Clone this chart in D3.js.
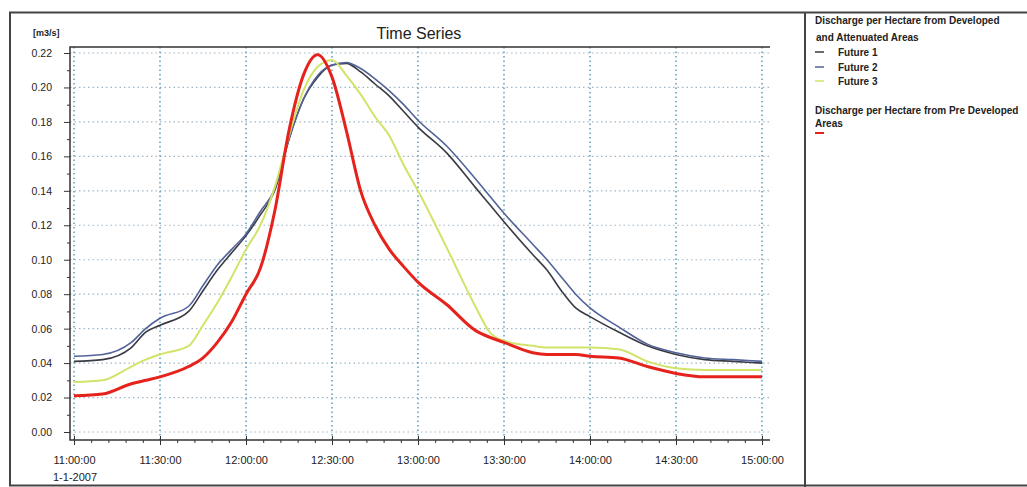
<!DOCTYPE html>
<html lang="en">
<head>
<meta charset="UTF-8">
<script src="https://cdn.jsdelivr.net/npm/d3@7"></script>
<title>Time Series</title>
<style>
    body {
        margin: 0;
        background: #fff;
        font-family: "Liberation Sans", Arial, sans-serif;
    }
    svg { display: block; }
    .grid-x line { stroke: #3d8fb5; stroke-width: 1.3; stroke-dasharray: 1.5 3; }
    .grid-y line { stroke: #9fb6c6; stroke-width: 1.2; stroke-dasharray: 1.5 3; }
    .axis text { font-family: "Liberation Sans", Arial, sans-serif; fill: #222; }
    .axis line { stroke: #333; }
</style>
</head>
<body>
<svg id="chart" width="1027" height="487"></svg>
<script>
    // minutes after 11:00:00 on 1-1-2007
    const minutes = [0, 10, 20, 25, 30, 40, 45, 50, 55, 60, 65, 70, 75, 80, 85, 90, 95, 100, 105, 110,
        115, 120, 130, 140, 145, 150, 160, 165, 170, 175, 180, 190, 200, 210, 220, 230, 240];

    const future1 = [0.041, 0.042, 0.049, 0.058, 0.062, 0.070, 0.082, 0.094, 0.104, 0.114, 0.126, 0.140,
        0.170, 0.193, 0.206, 0.213, 0.214, 0.209, 0.202, 0.195, 0.186, 0.177, 0.162, 0.142, 0.132, 0.122,
        0.103, 0.094, 0.082, 0.072, 0.067, 0.058, 0.050, 0.045, 0.042, 0.041, 0.040];

    const future2 = [0.044, 0.045, 0.052, 0.060, 0.066, 0.073, 0.085, 0.097, 0.106, 0.115, 0.128, 0.141,
        0.170, 0.193, 0.207, 0.213, 0.2145, 0.211, 0.205, 0.198, 0.190, 0.181, 0.166, 0.147, 0.137, 0.127,
        0.109, 0.100, 0.090, 0.080, 0.072, 0.061, 0.051, 0.046, 0.043, 0.042, 0.041];

    const future3 = [0.029, 0.030, 0.038, 0.042, 0.045, 0.050, 0.062, 0.075, 0.090, 0.106, 0.120, 0.142,
        0.172, 0.198, 0.212, 0.216, 0.207, 0.196, 0.183, 0.172, 0.155, 0.140, 0.107, 0.073, 0.058, 0.053,
        0.050, 0.049, 0.049, 0.049, 0.049, 0.048, 0.041, 0.037, 0.036, 0.036, 0.036];

    const preDeveloped = [0.021, 0.022, 0.028, 0.030, 0.032, 0.038, 0.043, 0.052, 0.064, 0.080, 0.095, 0.128,
        0.175, 0.207, 0.219, 0.206, 0.175, 0.140, 0.120, 0.106, 0.096, 0.087, 0.074, 0.059, 0.055, 0.052,
        0.046, 0.045, 0.045, 0.045, 0.044, 0.043, 0.038, 0.034, 0.032, 0.032, 0.032];

    const yTicks = [0, 0.02, 0.04, 0.06, 0.08, 0.10, 0.12, 0.14, 0.16, 0.18, 0.20, 0.22];
    const xTickMinutes = [0, 30, 60, 90, 120, 150, 180, 210, 240];

    const svg = d3.select("#chart");
    const start = new Date(2007, 0, 1, 11, 0, 0);
    const toTime = m => d3.timeMinute.offset(start, m);

    // plot box
    const box = { left: 70, right: 770, top: 47, bottom: 440 };

    const x = d3.scaleTime()
        .domain([toTime(0), toTime(240)])
        .range([74, 762]);
    const y = d3.scaleLinear()
        .domain([0, 0.22])
        .range([432, 53]);

    // outer frame + legend divider
    svg.append("rect").attr("x", 10).attr("y", 12.5).attr("width", 1030).attr("height", 473)
        .attr("fill", "none").attr("stroke", "#444").attr("stroke-width", 2);
    svg.append("line").attr("x1", 805).attr("x2", 805).attr("y1", 12).attr("y2", 487)
        .attr("stroke", "#444").attr("stroke-width", 2);

    // grid
    svg.append("g").attr("class", "grid-y")
        .selectAll("line").data(yTicks).join("line")
        .attr("x1", box.left).attr("x2", box.right)
        .attr("y1", d => y(d)).attr("y2", d => y(d));
    svg.append("g").attr("class", "grid-x")
        .selectAll("line").data(xTickMinutes).join("line")
        .attr("x1", d => x(toTime(d))).attr("x2", d => x(toTime(d)))
        .attr("y1", box.top).attr("y2", box.bottom);

    // frame lines of plot
    svg.append("path")
        .attr("d", `M${box.right},${box.top}H${box.left}V${box.bottom}H${box.right}`)
        .attr("fill", "none").attr("stroke", "#333").attr("stroke-width", 1.5);

    // y axis
    const yAxis = svg.append("g").attr("class", "axis")
        .attr("transform", `translate(${box.left},0)`)
        .call(d3.axisLeft(y).tickValues(yTicks).tickSize(6).tickPadding(12).tickFormat(d3.format(".2f")));
    yAxis.select(".domain").remove();
    yAxis.selectAll("text").style("font-size", "10.5px");
    const yMinor = svg.append("g").attr("class", "axis")
        .attr("transform", `translate(${box.left},0)`)
        .call(d3.axisLeft(y).tickValues(d3.range(0.01, 0.22, 0.02)).tickSize(3).tickFormat(""));
    yMinor.select(".domain").remove();

    // x axis
    const xAxis = svg.append("g").attr("class", "axis")
        .attr("transform", `translate(0,${box.bottom})`)
        .call(d3.axisBottom(x).tickValues(xTickMinutes.map(toTime)).tickSize(5).tickPadding(11)
            .tickFormat(d3.timeFormat("%H:%M:%S")));
    xAxis.select(".domain").remove();
    xAxis.selectAll("text").style("font-size", "11px");
    const xInner = svg.append("g").attr("class", "axis")
        .attr("transform", `translate(0,${box.bottom})`)
        .call(d3.axisBottom(x).tickValues(xTickMinutes.map(toTime)).tickSize(-4).tickFormat(""));
    xInner.select(".domain").remove();
    const xMinor = svg.append("g").attr("class", "axis")
        .attr("transform", `translate(0,${box.bottom})`)
        .call(d3.axisBottom(x).tickValues(d3.range(6, 240, 6).filter(m => m % 30 !== 0).map(toTime))
            .tickSize(3).tickFormat(""));
    xMinor.select(".domain").remove();

    svg.append("text").attr("x", 53).attr("y", 481)
        .style("font-size", "11px").attr("fill", "#222").text("1-1-2007");
    svg.append("text").attr("x", 33).attr("y", 36)
        .style("font-size", "9px").style("font-weight", "bold").attr("fill", "#222").text("[m3/s]");
    svg.append("text").attr("x", 419).attr("y", 39).attr("text-anchor", "middle")
        .style("font-size", "16px").attr("fill", "#222").text("Time Series");

    // series
    const series = [
        { name: "Future 1", values: future1, color: "#3a3a44", width: 1.6 },
        { name: "Future 2", values: future2, color: "#52639a", width: 1.6 },
        { name: "Future 3", values: future3, color: "#d2e36a", width: 2 },
        { name: "Pre Developed", values: preDeveloped, color: "#e5221c", width: 3 }
    ];
    const line = d3.line()
        .x((d, i) => x(toTime(minutes[i])))
        .y(d => y(d))
        .curve(d3.curveMonotoneX);
    svg.append("g").selectAll("path").data(series).join("path")
        .attr("d", d => line(d.values))
        .attr("fill", "none")
        .attr("stroke", d => d.color)
        .attr("stroke-width", d => d.width)
        .attr("stroke-linejoin", "round");

    // legend
    const lg = svg.append("g").style("font-size", "10px").style("font-weight", "bold").attr("fill", "#222");
    lg.append("text").attr("x", 815).attr("y", 24).text("Discharge per Hectare from Developed");
    lg.append("text").attr("x", 816).attr("y", 41).text("and Attenuated Areas");
    const items = series.slice(0, 3);
    items.forEach((s, i) => {
        const cy = [52, 67, 81][i];
        lg.append("line").attr("x1", 815).attr("x2", 824).attr("y1", cy).attr("y2", cy)
            .attr("stroke", s.color).attr("stroke-width", 1.5);
        lg.append("text").attr("x", 838).attr("y", cy + 3.5).text(s.name);
    });
    lg.append("text").attr("x", 815).attr("y", 114).text("Discharge per Hectare from Pre Developed");
    lg.append("text").attr("x", 815).attr("y", 127).text("Areas");
    lg.append("line").attr("x1", 815).attr("x2", 824).attr("y1", 133).attr("y2", 133)
        .attr("stroke", series[3].color).attr("stroke-width", 2);
</script>
</body>
</html>
